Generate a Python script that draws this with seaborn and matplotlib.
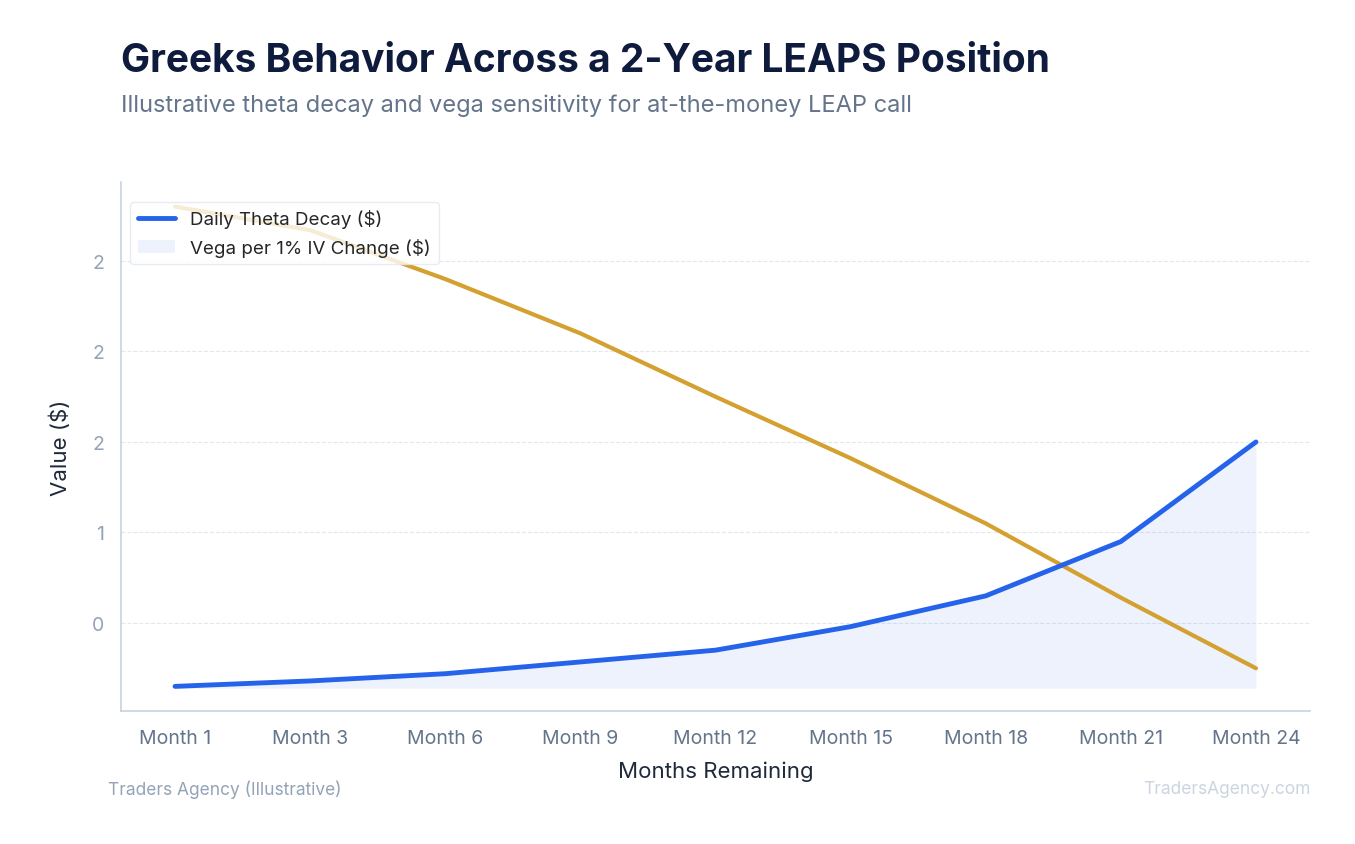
import matplotlib
matplotlib.use("Agg")
import matplotlib.pyplot as plt
import seaborn as sns
import pandas as pd

months = ["Month 1","Month 3","Month 6","Month 9","Month 12","Month 15","Month 18","Month 21","Month 24"]
theta = [-0.35,-0.32,-0.28,-0.215,-0.15,-0.02,0.15,0.45,1.0]
vega = [2.30,2.17,1.90,1.60,1.25,0.91,0.55,0.14,-0.25]
ytick_vals = [0.0,0.5,1.0,1.5,2.0]
ytick_labels = ["0","1","2","2","2"]

sns.set_theme(style="white")
plt.rcParams['font.family'] = ['Inter','DejaVu Sans']

df = pd.DataFrame({"m": months, "theta": theta, "vega": vega, "x": range(len(months))})
fig = plt.figure(figsize=(13.55,8.45), dpi=100)
ax = fig.add_axes([121/1355, 1-712/845, (1310-121)/1355, (712-183)/845])

base = min(theta) - 0.01
ax.fill_between(df["x"], theta, base, color="#2563eb", alpha=0.08, linewidth=0, label="Vega per 1% IV Change ($)")
sns.lineplot(data=df, x="x", y="vega", ax=ax, color="#d4a030", linewidth=3)
sns.lineplot(data=df, x="x", y="theta", ax=ax, color="#2563eb", linewidth=3.5, label="Daily Theta Decay ($)")

ax.set_xlim(-0.4, 8.4)
ax.set_ylim(-0.486, 2.436)
ax.set_xticks(range(len(months)))
ax.set_xticklabels(months, color="#64748b", fontsize=14)
ax.set_yticks(ytick_vals)
ax.set_yticklabels(ytick_labels, color="#94a3b8", fontsize=14)
ax.tick_params(axis="x", length=5, color="#cbd5e1", pad=8)
ax.tick_params(axis="y", length=0, pad=12)
ax.grid(axis="y", color="#e2e8f0", linestyle="--", linewidth=0.8)
for s in ["top","right"]:
    ax.spines[s].set_visible(False)
for s in ["left","bottom"]:
    ax.spines[s].set_color("#cbd5e1")
ax.set_xlabel("Months Remaining", fontsize=16, color="#1e293b", labelpad=10)
ax.set_ylabel("Value ($)", fontsize=16, color="#1e293b", labelpad=15)

h, l = ax.get_legend_handles_labels()
order = [l.index("Daily Theta Decay ($)"), l.index("Vega per 1% IV Change ($)")]
leg = ax.legend([h[i] for i in order], [l[i] for i in order], loc="upper left", fontsize=13.5,
                frameon=True, bbox_to_anchor=(0.0, 0.98), borderaxespad=0.5)
leg.get_frame().set_edgecolor("#e2e8f0")

fig.text(121/1355, 1-62/845, "Greeks Behavior Across a 2-Year LEAPS Position", fontsize=28, fontweight="bold", color="#0f1b3d", va="center")
fig.text(121/1355, 1-106/845, "Illustrative theta decay and vega sensitivity for at-the-money LEAP call", fontsize=17, color="#64748b", va="center")
fig.text(108/1355, 1-790/845, "Traders Agency (Illustrative)", fontsize=12.5, color="#94a3b8", va="center")
fig.text(1310/1355, 1-790/845, "TradersAgency.com", fontsize=12.5, color="#cbd5e1", va="center", ha="right")

fig.savefig("out.png", dpi=100)
